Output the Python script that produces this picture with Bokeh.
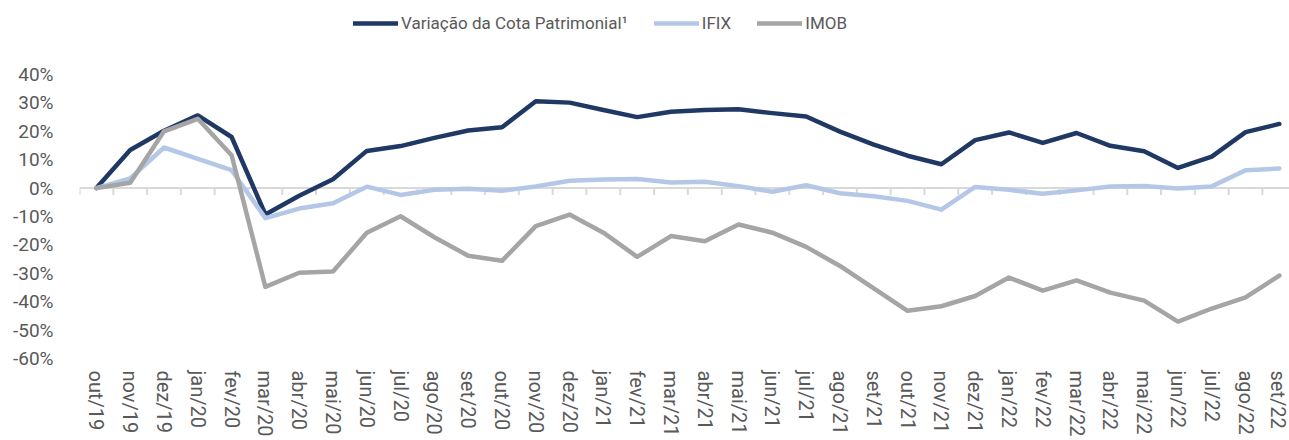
from bokeh.plotting import figure
from bokeh.models import (Range1d, FixedTicker, LinearAxis, PrintfTickFormatter, Span,
                          Legend, LegendItem)
from bokeh.embed import file_html
from bokeh.resources import INLINE

months = ["out/19", "nov/19", "dez/19", "jan/20", "fev/20", "mar/20", "abr/20", "mai/20",
          "jun/20", "jul/20", "ago/20", "set/20", "out/20", "nov/20", "dez/20", "jan/21",
          "fev/21", "mar/21", "abr/21", "mai/21", "jun/21", "jul/21", "ago/21", "set/21",
          "out/21", "nov/21", "dez/21", "jan/22", "fev/22", "mar/22", "abr/22", "mai/22",
          "jun/22", "jul/22", "ago/22", "set/22"]

cota = [0, 13.4, 20.2, 25.6, 18.0, -9.3, -2.7, 3.1, 13.1, 14.8, 17.7, 20.3, 21.4, 30.6,
        30.1, 27.5, 25.0, 26.9, 27.5, 27.8, 26.4, 25.2, 19.9, 15.3, 11.4, 8.4, 16.9, 19.6,
        15.9, 19.4, 14.9, 13.0, 7.1, 11.1, 19.7, 22.6]
ifix = [0, 3.4, 14.3, 10.3, 6.3, -10.6, -7.2, -5.3, 0.5, -2.4, -0.6, -0.2, -0.9, 0.6, 2.6,
        3.0, 3.2, 2.0, 2.2, 0.7, -1.3, 1.0, -1.8, -2.9, -4.5, -7.6, 0.4, -0.6, -2.0, -0.8,
        0.6, 0.7, -0.1, 0.6, 6.3, 6.9]
imob = [0, 1.9, 20.0, 24.4, 11.6, -34.8, -29.8, -29.4, -15.7, -9.9, -17.3, -23.8, -25.6,
        -13.4, -9.3, -15.7, -24.2, -16.9, -18.7, -12.8, -15.7, -20.7, -27.4, -35.3, -43.2,
        -41.6, -38.0, -31.5, -36.1, -32.5, -36.8, -39.6, -47.0, -42.4, -38.5, -30.8]

series_names = ["Variação da Cota Patrimonial¹", "IFIX", "IMOB"]
y_ticks = [-60, -50, -40, -30, -20, -10, 0, 10, 20, 30, 40]

colors = ["#1f3864", "#b4c7e7", "#a5a5a5"]
FONT = "Roboto"
TXT = "#595959"

x = list(range(len(months)))

p = figure(width=1289, height=440, output_backend="svg", toolbar_location=None,
           x_range=Range1d(-0.5, 35.3), y_range=Range1d(-60, 66.06),
           x_axis_type=None, y_axis_type=None,
           min_border_left=79, min_border_right=0, min_border_top=0, min_border_bottom=82)
p.background_fill_color = "white"
p.border_fill_color = "white"
p.outline_line_color = None
p.xgrid.visible = False
p.ygrid.visible = False

# y axis
yax = LinearAxis(ticker=FixedTicker(ticks=y_ticks),
                 formatter=PrintfTickFormatter(format="%d%%"))
yax.axis_line_color = None
yax.major_tick_line_color = None
yax.minor_tick_line_color = None
yax.major_label_standoff = 20
yax.major_label_text_font = FONT
yax.major_label_text_font_size = "19px"
yax.major_label_text_color = TXT
p.add_layout(yax, "left")

# x axis (labels at bottom)
xax = LinearAxis(ticker=FixedTicker(ticks=x),
                 major_label_overrides={i: m for i, m in enumerate(months)})
xax.axis_line_color = None
xax.major_tick_line_color = None
xax.minor_tick_line_color = None
xax.major_label_orientation = "vertical"
xax.major_label_standoff = 6
xax.major_label_text_font = FONT
xax.major_label_text_font_size = "20px"
xax.major_label_text_color = TXT
p.add_layout(xax, "below")

# zero line with category-boundary ticks
p.add_layout(Span(location=0, dimension="width", line_color="#d9d9d9", line_width=2,
                  level="underlay"))
bounds = [i - 0.5 for i in range(len(months) + 1)]
p.segment(x0=bounds, y0=[0] * len(bounds), x1=bounds, y1=[-2.4] * len(bounds),
          line_color="#d9d9d9", line_width=2)

renderers = []
for vals, c in zip([cota, ifix, imob], colors):
    r = p.line(x, vals, line_color=c, line_width=4.5, line_join="round", line_cap="round")
    renderers.append(r)

legend = Legend(items=[LegendItem(label=n, renderers=[r]) for n, r in zip(series_names, renderers)],
                orientation="horizontal", location=(274, 325))
legend.glyph_width = 45
legend.glyph_height = 20
legend.label_standoff = 3
legend.spacing = 26
legend.padding = 0
legend.margin = 0
legend.border_line_color = None
legend.background_fill_alpha = 0
legend.label_text_font = FONT
legend.label_text_font_size = "17px"
legend.label_text_color = TXT
p.add_layout(legend, "center")

open("out.html", "w").write(file_html(p, INLINE))
